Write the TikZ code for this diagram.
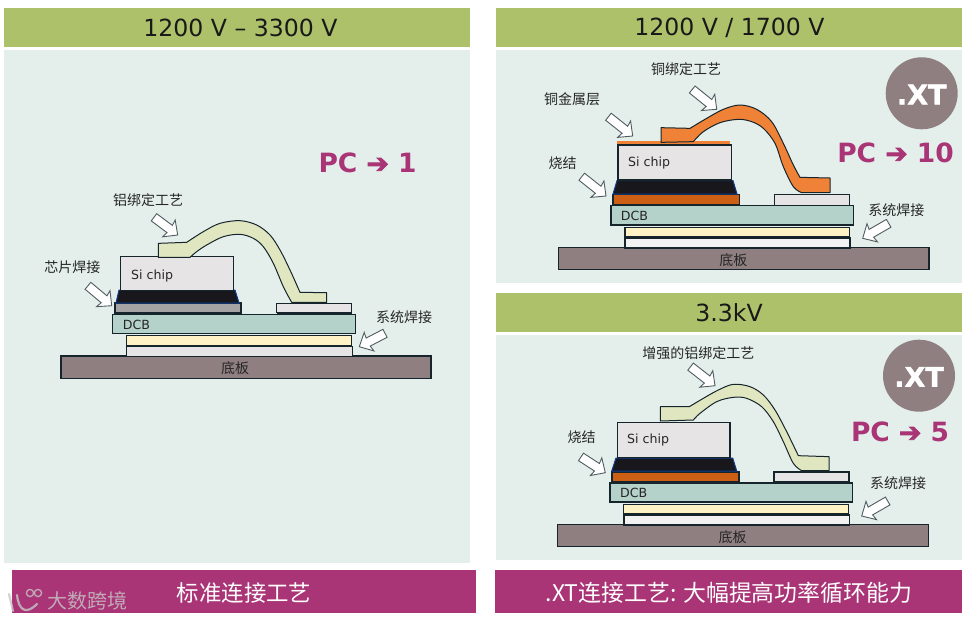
\documentclass[tikz,border=0pt]{standalone}
\usepackage{fontspec}
\setmainfont{DejaVu Sans}
\newfontfamily\cjk{Noto Sans CJK SC}
\newfontface\arrowf{DejaVu Sans}[FakeBold=3]
\newfontface\xtf{DejaVu Sans Bold}[FakeBold=1.5]
\definecolor{hdr}{HTML}{ADC16B}
\definecolor{pnl}{HTML}{E4EFEB}
\definecolor{ftr}{HTML}{A93476}
\definecolor{ink}{HTML}{16252C}
\definecolor{chipc}{HTML}{E6E4E4}
\definecolor{greyl}{HTML}{A6A3A4}
\definecolor{brown}{HTML}{CC5F14}
\definecolor{dcbc}{HTML}{B4D1CA}
\definecolor{yell}{HTML}{FFF2C4}
\definecolor{base}{HTML}{8F7F80}
\definecolor{alu}{HTML}{E0E6BF}
\definecolor{cop}{HTML}{EF8236}
\definecolor{solderc}{HTML}{18181C}
\definecolor{bluee}{HTML}{123A8C}
\tikzset{
  x=1pt,y=-1pt,
  band/.style={fill=#1,draw=none},
  layer/.style={fill=#1,draw=ink,line width=1pt},
  thick layer/.style={fill=#1,draw=ink,line width=1.6pt},
  solder/.style={fill=solderc,draw=bluee,line width=1pt},
  wirebody/.style={fill=#1,draw=ink,line width=1pt,line join=round},
  holarrow/.style={fill=white,draw=ink!75,line width=.9pt,line join=miter},
  lbl/.style={font=\cjk\fontsize{14}{14}\selectfont,inner sep=0pt,text=black!85},
  head/.style={font=\fontsize{23.6}{24}\selectfont,inner sep=0pt,text=black!90},
  foot/.style={font=\cjk\fontsize{22.4}{24}\selectfont,inner sep=0pt,text=white},
  foot wide/.style={font=\cjk\fontsize{22.9}{24}\selectfont,inner sep=0pt,text=white},
  pc/.style={font=\bfseries\fontsize{26.5}{28}\selectfont,inner sep=0pt,text=ftr},
  xt/.style={font=\xtf\fontsize{27}{28}\selectfont,inner sep=0pt,text=white},
  small/.style={font=\fontsize{12.6}{14}\selectfont,inner sep=0pt,text=black!85,anchor=west},
  wm/.style={font=\cjk\fontsize{20}{20}\selectfont,inner sep=0pt,text=black!22!white,opacity=.8},
}
\newcommand{\pcarrow}{{\arrowf ➔}}
% hollow block arrow: tip x, tip y, visual angle, length
\newcommand{\hollowarrow}[4]{%
  \draw[holarrow,shift={(#1,#2)},rotate=#3]
    (0,0) -- (-11,-10.5) -- (-10,-4.5) -- (-#4,-4.5) -- (-#4,4.5) -- (-10,4.5) -- (-11,10.5) -- cycle;}
\begin{document}
\begin{tikzpicture}
\useasboundingbox (0,0) rectangle (968,619);
\fill[white] (0,0) rectangle (968,619);
% panels and bands
\fill[pnl] (4,50) rectangle (470,563);
\fill[pnl] (496,50) rectangle (962,283);
\fill[pnl] (496,335) rectangle (962,560);
\fill[hdr] (4,8) rectangle (470,47);
\fill[hdr] (496,8) rectangle (962,47);
\fill[hdr] (496,293) rectangle (962,332);
\fill[ftr] (12,570) rectangle (476,613);
\fill[ftr] (495,570) rectangle (962,613);
\node[head] (h1) at (240.5,28) {1200 V – 3300 V};
\node[head] (h2) at (729.5,28) {1200 V / 1700 V};
\node[head] (h3) at (729,313) {3.3kV};
\node[foot] (f1) at (244,593) {标准连接工艺};
\node[foot wide] (f2) at (729,593) {.XT连接工艺: 大幅提高功率循环能力};
% watermark
\begin{scope}[opacity=.8,draw=black!22!white,line width=2.2pt,line cap=round]
  \draw (9,594) -- (13,611);
  \draw (17,595) .. controls (19,612) and (27,614) .. (37,604);
  \draw[line width=1.3pt] (30,593) circle (3.6);
  \draw[line width=1.3pt] (38,593) circle (3.6);
\end{scope}
\node[wm] (wmark) at (87.5,601) {大数跨境};

% ---------- left panel
\fill[base,draw=ink,line width=1.6pt] (60.7,356) rectangle (431,378.3);
\draw[layer=chipc] (126.7,346) rectangle (352.3,356);
\draw[layer=yell] (126.7,335.3) rectangle (351.7,345.3);
\draw[layer=dcbc] (112.7,314.3) rectangle (355,333.3);
\draw[thick layer=greyl] (115,303) rectangle (241,313);
\draw[layer=chipc] (276.7,303) rectangle (351.7,312);
\draw[ink,line width=1.6pt] (276.7,313) -- (351.7,313);
\draw[solder] (119,290) -- (235,290) -- (239,303) -- (116,303) -- cycle;
\draw[layer=chipc] (120.7,256.7) rectangle (233.3,290);
\begin{scope}[shift={(40,180)},scale=1/3]
\draw[wirebody=alu] (355,190) -- (440,187)
  -- plot[smooth,tension=.55] coordinates {(440,187) (490,155) (540,130) (600,122) (650,135) (690,165) (720,210) (750,270) (780,337)}
  -- (860,338) -- (860,367) -- (755,367)
  -- plot[smooth,tension=.55] coordinates {(755,367) (730,320) (700,250) (670,200) (640,175) (600,163) (550,170) (500,195) (470,215) (450,232)}
  -- (355,232) -- cycle;
\end{scope}
\hollowarrow{177.7}{235}{-36.8}{29.6}
\hollowarrow{111.7}{305.7}{-40}{31}
\hollowarrow{359.3}{346.7}{207.5}{29}
\node[lbl] (a1) at (148,200) {铝绑定工艺};
\node[lbl] (a2) at (72.3,267.3) {芯片焊接};
\node[lbl] (a3) at (404.2,317.3) {系统焊接};
\node[lbl] (a4) at (235,368.3) {底板};
\node[small] (a5) at (131,275.7) {Si chip};
\node[small] (a6) at (122.7,324.8) {DCB};
\node[pc] (a7) at (367.5,163) {PC \pcarrow{} 1};

% ---------- upper right panel
\fill[base,draw=ink,line width=1.1pt] (558.3,247.7) rectangle (929,269.3);
\draw[thick layer=white!95!black] (624.7,238) rectangle (850,248);
\draw[thick layer=yell] (624.7,227.3) rectangle (849.3,236.7);
\draw[thick layer=dcbc] (610.7,205.3) rectangle (853.3,225);
\draw[thick layer=brown] (612.7,194.3) rectangle (739.3,205);
\draw[layer=chipc] (774.3,194.3) rectangle (849.3,205);
\draw[solder] (617,180.7) -- (733,180.7) -- (737,194) -- (613,194) -- cycle;
\draw[thick layer=chipc] (618,145) rectangle (731.3,180);
\fill[cop] (617.3,141) rectangle (730,144.2);
\begin{scope}[shift={(530,50)},scale=1/3]
\draw[wirebody=cop] (393,233) -- (480,235)
  -- plot[smooth,tension=.55] coordinates {(480,235) (530,205) (580,178) (630,165) (680,178) (725,215) (760,280) (790,345) (810,382)}
  -- (900,384) -- (900,428) -- (815,428)
  -- plot[smooth,tension=.55] coordinates {(815,428) (790,410) (760,350) (735,280) (700,235) (665,215) (625,208) (570,218) (520,245) (490,275)}
  -- (393,277) -- cycle;
\end{scope}
\hollowarrow{716.7}{109.3}{-39}{31.5}
\hollowarrow{632.7}{136}{-38.4}{31}
\hollowarrow{606}{196}{-38.5}{31}
\hollowarrow{862.7}{238.3}{210}{30}
\node[lbl] (b1) at (686,69) {铜绑定工艺};
\node[lbl] (b2) at (572,99) {铜金属层};
\node[lbl] (b3) at (562.5,163) {烧结};
\node[lbl] (b4) at (896.3,210) {系统焊接};
\node[lbl] (b5) at (733.3,260) {底板};
\node[small] (b6) at (628,163.5) {Si chip};
\node[small] (b7) at (620.7,215.5) {DCB};
\node[pc] (b8) at (895.5,153) {PC \pcarrow{} 10};
\node[circle,fill=base,minimum size=72pt,inner sep=0pt] (b9) at (921.7,93.3) {};
\node[xt] (b10) at (921.7,94.5) {.XT};

% ---------- lower right panel
\fill[base,draw=ink,line width=1.1pt] (557.3,524.3) rectangle (928.3,546.3);
\draw[thick layer=white!95!black] (623.7,515) rectangle (849.3,525);
\draw[layer=yell] (623.7,504.3) rectangle (848.7,513.7);
\draw[thick layer=dcbc] (609.7,482.7) rectangle (852.3,502);
\draw[thick layer=brown] (612,471.7) rectangle (738.7,481.7);
\draw[thick layer=chipc] (773.7,471.7) rectangle (848.7,481.7);
\draw[solder] (616,458) -- (732.7,458) -- (736.7,471) -- (611.7,471) -- cycle;
\draw[thick layer=chipc] (617.3,422.3) rectangle (730,457.3);
\begin{scope}[shift={(530,335)},scale=1/3]
\draw[wirebody=alu] (391,215) -- (478,215)
  -- plot[smooth,tension=.55] coordinates {(478,215) (520,190) (565,165) (610,148) (660,155) (700,180) (735,225) (770,290) (805,362)}
  -- (897,365) -- (897,407) -- (815,407)
  -- plot[smooth,tension=.55] coordinates {(815,407) (790,385) (760,320) (730,260) (695,215) (650,190) (610,187) (560,200) (510,235) (490,255)}
  -- (391,258) -- cycle;
\end{scope}
\hollowarrow{715}{385.7}{-38}{31}
\hollowarrow{605.3}{472.7}{-33}{29}
\hollowarrow{861.7}{516}{210}{30}
\node[lbl] (c1) at (698.3,353.3) {增强的铝绑定工艺};
\node[lbl] (c2) at (581.7,436.7) {烧结};
\node[lbl] (c3) at (898,482.7) {系统焊接};
\node[lbl] (c4) at (732.5,537) {底板};
\node[small] (c5) at (627,440.5) {Si chip};
\node[small] (c6) at (620,492.5) {DCB};
\node[pc] (c7) at (900,432) {PC \pcarrow{} 5};
\node[circle,fill=base,minimum size=72pt,inner sep=0pt] (c8) at (919,375.7) {};
\node[xt] (c9) at (919,376.9) {.XT};
\end{tikzpicture}
\end{document}
